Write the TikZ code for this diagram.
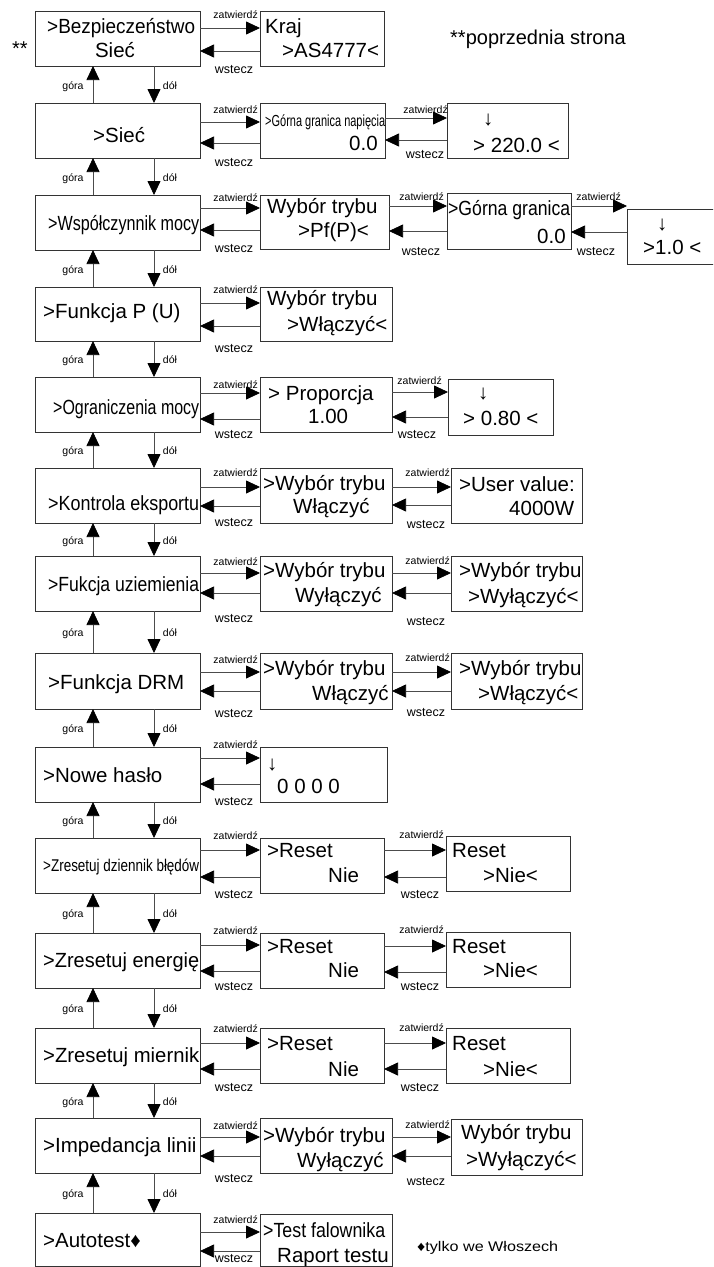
\documentclass[tikz,border=0pt]{standalone}
\usepackage{fontspec}
\setmainfont{Liberation Sans}
\usepackage{graphicx}
\usetikzlibrary{arrows.meta}
\newcommand{\fitw}[2]{\resizebox{#1pt}{\height}{#2}}
\newcommand{\bx}[5]{\node[box, minimum width={#4-#2}, minimum height={#5-#3}] (#1) at (#2,#3) {};}
\newcommand{\tx}[4]{\node[txt] (#1) at (#2,#3) {#4};}
\tikzset{
 box/.style={draw=black!80, line width=0.9pt, rectangle, inner sep=0pt, outer sep=0pt, anchor=north west},
 txt/.style={inner sep=0pt, anchor=base west, font=\fontsize{20.5}{24}\selectfont},
 lbl/.style={inner sep=0pt, font=\fontsize{10.5}{12}\selectfont},
 wlbl/.style={inner sep=0pt, font=\fontsize{12.5}{14}\selectfont},
 ln/.style={draw=black!70, line width=0.75pt, -{Triangle[length=14pt,width=13pt,color=black]}},
}
\begin{document}
\begin{tikzpicture}[x=1pt,y=-1pt]
\useasboundingbox (0,0) rectangle (713,1267);
\clip (0,0) rectangle (713,1267);
% left column
\bx{L1}{35}{11}{200}{66}
\bx{L2}{35}{103}{200}{158}
\bx{L3}{35}{195}{200}{250}
\bx{L4}{35}{287}{200}{341}
\bx{L5}{35}{377}{200}{432}
\bx{L6}{35}{468}{200}{523}
\bx{L7}{35}{556}{200}{611}
\bx{L8}{35}{653}{200}{709}
\bx{L9}{35}{747}{200}{802}
\bx{L10}{35}{838}{200}{893}
\bx{L11}{35}{933}{200}{988}
\bx{L12}{35}{1028}{200}{1083}
\bx{L13}{35}{1118}{200}{1173}
\bx{L14}{35}{1213}{200}{1266}
% middle column
\bx{M1}{260}{11}{384}{66}
\bx{M2}{260}{103}{385}{158}
\bx{M3}{260}{195}{389}{249}
\bx{M4}{260}{287}{392}{341}
\bx{M5}{260}{377}{392}{432}
\bx{M6}{260}{468}{392}{523}
\bx{M7}{260}{556}{392}{611}
\bx{M8}{260}{653}{392}{709}
\bx{M9}{260}{747}{387}{802}
\bx{M10}{260}{838}{384}{893}
\bx{M11}{260}{933}{384}{988}
\bx{M12}{260}{1028}{384}{1083}
\bx{M13}{260}{1118}{392}{1173}
\bx{M14}{260}{1214}{392}{1266}
% third column
\bx{T2}{447}{103}{568}{158}
\bx{T3}{447}{193}{571}{249}
\bx{F3}{627}{209}{716}{264}
\bx{T5}{448}{379}{553}{435}
\bx{T6}{451}{468}{582}{523}
\bx{T7}{451}{556}{582}{611}
\bx{T8}{451}{653}{582}{709}
\bx{T10}{446}{836}{570}{891}
\bx{T11}{446}{932}{570}{987}
\bx{T12}{446}{1028}{570}{1083}
\bx{T13}{451}{1119}{582}{1175}
% left texts
\tx{l1a}{47}{33}{\fitw{148}{>Bezpieczeństwo}}
\node[txt, anchor=base] (l1b) at (115,57) {Sieć};
\tx{l2}{93}{142}{>Sieć}
\tx{l3}{48}{230}{\fitw{151}{>Współczynnik mocy}}
\tx{l4}{43}{318}{>Funkcja P (U)}
\tx{l5}{53}{414}{\fitw{146}{>Ograniczenia mocy}}
\tx{l6}{48}{510}{\fitw{151}{>Kontrola eksportu}}
\tx{l7}{48}{591}{\fitw{151}{>Fukcja uziemienia}}
\tx{l8}{48}{689}{>Funkcja DRM}
\tx{l9}{43}{782}{>Nowe hasło}
\node[txt, font=\fontsize{17}{20}\selectfont] (l10) at (43,871) {\fitw{156}{>Zresetuj dziennik błędów}};
\tx{l11}{43}{967}{\fitw{156}{>Zresetuj energię}}
\tx{l12}{43}{1062}{\fitw{156}{>Zresetuj miernik}}
\tx{l13}{43}{1152}{>Impedancja linii}
\tx{l14}{43}{1247}{>Autotest♦}
% middle texts
\tx{m1a}{265}{33}{Kraj}
\tx{m1b}{282}{57}{>AS4777<}
\node[txt, font=\fontsize{16}{19}\selectfont] (m2a) at (265,126) {\fitw{120}{>Górna granica napięcia}};
\tx{m2b}{349}{150}{0.0}
\tx{m3a}{267}{213}{Wybór trybu}
\tx{m3b}{298}{237}{>Pf(P)<}
\tx{m4a}{267}{305}{Wybór trybu}
\tx{m4b}{287}{331}{>Włączyć<}
\tx{m5a}{268}{400}{> Proporcja}
\tx{m5b}{308}{423}{1.00}
\tx{m6a}{263}{490}{>Wybór trybu}
\tx{m6b}{293}{513}{Włączyć}
\tx{m7a}{263}{577}{>Wybór trybu}
\tx{m7b}{295}{602}{Wyłączyć}
\tx{m8a}{263}{675}{>Wybór trybu}
\tx{m8b}{312}{700}{Włączyć}
\tx{m9a}{267}{770}{↓}
\tx{m9b}{277}{793}{0 0 0 0}
\tx{m10a}{267}{857}{>Reset}
\tx{m10b}{328}{882}{Nie}
\tx{m11a}{267}{953}{>Reset}
\tx{m11b}{328}{977}{Nie}
\tx{m12a}{267}{1050}{>Reset}
\tx{m12b}{328}{1076}{Nie}
\tx{m13a}{263}{1142}{>Wybór trybu}
\tx{m13b}{297}{1167}{Wyłączyć}
\tx{m14a}{263}{1237}{\fitw{122}{>Test falownika}}
\tx{m14b}{277}{1262}{Raport testu}
% third texts
\tx{t2a}{483}{125}{↓}
\tx{t2b}{473}{152}{> 220.0 <}
\tx{t3a}{448}{215}{\fitw{122}{>Górna granica}}
\tx{t3b}{537}{243}{0.0}
\tx{f3a}{657}{230}{↓}
\tx{f3b}{643}{254}{>1.0 <}
\tx{t5a}{478}{399}{↓}
\tx{t5b}{463}{425}{> 0.80 <}
\tx{t6a}{459}{491}{>User value:}
\tx{t6b}{509}{515}{4000W}
\tx{t7a}{459}{577}{>Wybór trybu}
\tx{t7b}{468}{603}{>Wyłączyć<}
\tx{t8a}{459}{675}{>Wybór trybu}
\tx{t8b}{478}{700}{>Włączyć<}
\tx{t10a}{452}{857}{Reset}
\tx{t10b}{483}{882}{>Nie<}
\tx{t11a}{452}{953}{Reset}
\tx{t11b}{483}{977}{>Nie<}
\tx{t12a}{452}{1050}{Reset}
\tx{t12b}{483}{1076}{>Nie<}
\tx{t13a}{461}{1139}{Wybór trybu}
\tx{t13b}{466}{1166}{>Wyłączyć<}
% notes
\node[txt, font=\fontsize{20}{24}\selectfont] (n1) at (12,55) {**};
\node[txt, font=\fontsize{20}{24}\selectfont] (n2) at (450,44) {**poprzednia strona};
\node[txt, font=\fontsize{14}{16}\selectfont] (n3) at (417,1251) {\fitw{141}{♦tylko we Włoszech}};
% left -> middle connectors
\foreach \i/\zy/\wy/\zl/\wl in {1/28/51/15/70, 2/122/143/110/163, 3/208/230/198/249, 4/303/326/290/349, 5/393/419/385/435, 6/487/506/473/523, 7/573/593/562/619, 8/672/691/660/714, 9/758/784/745/802, 10/850/877/836/895, 11/945/971/931/987, 12/1043/1069/1029/1088, 13/1137/1156/1126/1179, 14/1232/1251/1220/1259}{
  \draw[ln] (L\i.east |- 0,\zy) -- (M\i.west |- 0,\zy);
  \draw[ln] (M\i.west |- 0,\wy) -- (L\i.east |- 0,\wy);
  \node[lbl, anchor=east] (zl\i) at (258,\zl) {zatwierdź};
  \node[wlbl] (wl\i) at (234,\wl) {wstecz};
}
% middle -> third connectors
\foreach \a/\b/\zy/\wy/\zx/\zl/\wx/\wl [count=\k] in {M2/T2/118/140/448/110/425/155, M3/T3/206/231/444/197/421/252, T3/F3/206/232/621/197/596/252, M5/T5/392/417/442/381/417/435, M6/T6/487/505/450/473/426/525, M7/T7/573/593/450/561/426/622, M8/T8/672/691/450/658/426/713, M10/T10/850/877/444/835/420/895, M11/T11/946/972/444/930/420/987, M12/T12/1043/1069/444/1028/420/1088, M13/T13/1137/1156/450/1125/426/1182}{
  \draw[ln] (\a.east |- 0,\zy) -- (\b.west |- 0,\zy);
  \draw[ln] (\b.west |- 0,\wy) -- (\a.east |- 0,\wy);
  \node[lbl, anchor=east] (zr\k) at (\zx,\zl) {zatwierdź};
  \node[wlbl] (wr\k) at (\wx,\wl) {wstecz};
}
% vertical connectors
\foreach \i [evaluate=\i as \j using int(\i+1)] in {1,...,13}{
  \draw[ln] (L\j.north -| 93,0) -- (L\i.south -| 93,0);
  \draw[ln] (L\i.south -| 154,0) -- (L\j.north -| 154,0);
  \path (L\i.south -| 73,0) -- (L\j.north -| 73,0) node[lbl, midway, yshift=-2pt] (g\i) {góra};
  \path (L\i.south -| 170,0) -- (L\j.north -| 170,0) node[lbl, midway, yshift=-1pt] (d\i) {dół};
}
\end{tikzpicture}
\end{document}
